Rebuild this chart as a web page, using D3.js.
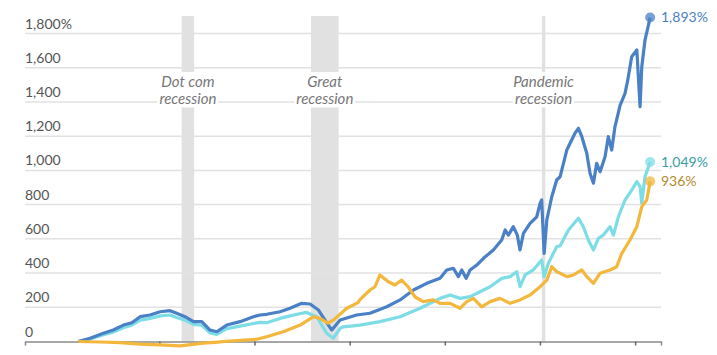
<!DOCTYPE html>
<html>
<head>
<meta charset="utf-8">
<script src="https://cdn.jsdelivr.net/npm/d3@7"></script>
<style>
  html, body { margin: 0; padding: 0; background: #fff; }
  svg { display: block; font-family: Lato, "Open Sans", sans-serif; }
</style>
</head>
<body>
<svg id="chart" width="717" height="355"></svg>
<script>
// ---- data (decimal year, % change) ----
const nasdaq = [
  [1995.74,0],[1996.36,19],[1997.06,48],[1997.58,67],[1998.11,96],[1998.55,110],[1998.99,145],
  [1999.51,155],[2000.04,174],[2000.56,180],[2000.91,165],[2001.35,145],[2001.79,116],[2002.23,116],
  [2002.66,67],[2003.02,57],[2003.54,96],[2004.24,116],[2004.94,145],[2005.29,155],[2005.64,159],
  [2006.34,174],[2006.87,194],[2007.48,223],[2007.92,219],[2008.36,184],[2008.88,96],[2009.06,67],
  [2009.5,126],[2010.37,155],[2011.07,165],[2011.95,203],[2012.65,243],[2013.35,301],[2014.05,340],
  [2014.75,369],[2015.10,418],[2015.45,428],[2015.71,379],[2015.89,418],[2016.12,369],[2016.33,418],
  [2016.68,447],[2017.03,486],[2017.55,535],[2017.99,593],[2018.17,652],[2018.34,622],[2018.60,671],
  [2018.81,622],[2018.95,535],[2019.13,632],[2019.48,690],[2019.83,729],[2020.01,808],[2020.09,827],
  [2020.22,515],[2020.36,710],[2020.62,846],[2020.88,944],[2021.06,963],[2021.41,1119],[2021.84,1217],
  [2022.02,1246],[2022.20,1197],[2022.46,1100],[2022.63,983],[2022.81,925],[2022.98,1041],[2023.16,992],
  [2023.42,1080],[2023.59,1197],[2023.77,1119],[2023.94,1255],[2024.21,1380],[2024.47,1450],
  [2024.60,1520],[2024.82,1664],[2025.09,1704],[2025.26,1372],[2025.35,1606],[2025.52,1762],[2025.79,1893]
];
const sp500 = [
  [1995.74,0],[1996.36,15],[1997.06,40],[1997.58,55],[1998.11,80],[1998.55,95],[1998.99,125],
  [1999.51,135],[2000.04,150],[2000.56,155],[2000.91,140],[2001.35,125],[2001.79,100],[2002.23,95],
  [2002.66,50],[2003.02,42],[2003.54,75],[2004.24,90],[2004.94,105],[2005.29,112],[2005.64,110],
  [2006.34,135],[2006.87,150],[2007.48,165],[2007.74,170],[2008.27,145],[2008.79,48],[2009.14,19],
  [2009.5,77],[2009.67,86],[2010.54,96],[2011.59,116],[2012.65,145],[2013.7,194],
  [2014.75,252],[2015.28,272],[2015.80,252],[2016.33,262],[2016.85,291],[2017.38,320],[2017.99,369],
  [2018.43,379],[2018.78,408],[2018.95,320],[2019.22,389],[2019.65,418],[2020.09,476],[2020.22,379],
  [2020.44,457],[2020.88,554],[2021.06,560],[2021.50,652],[2022.02,720],[2022.28,671],[2022.54,593],
  [2022.81,535],[2023.07,603],[2023.33,622],[2023.68,671],[2023.86,622],[2024.12,729],[2024.47,827],
  [2024.82,885],[2025.09,934],[2025.26,905],[2025.35,808],[2025.52,963],[2025.79,1049]
];
const gold = [
  [1995.74,0],[1996.9,-3],[1997.93,-7],[1998.98,-15],[2000.04,-20],[2001.09,-26],[2002.3,-10],
  [2002.93,-5],[2003.72,3],[2005.11,13],[2005.64,28],[2006.51,57],[2007.4,96],[2008.1,145],
  [2008.44,135],[2008.86,108],[2009.14,125],[2009.85,194],[2010.44,227],[2010.54,245],[2011.07,301],
  [2011.33,320],[2011.59,389],[2011.85,365],[2012.03,349],[2012.38,330],[2012.73,359],[2013.07,320],
  [2013.44,260],[2013.87,233],[2014.4,243],
  [2014.75,223],[2015.28,223],[2015.80,194],[2016.15,233],[2016.50,252],[2016.94,203],[2017.38,233],
  [2017.90,252],[2018.43,223],[2018.95,243],[2019.48,272],[2020.01,320],[2020.36,359],[2020.62,437],
  [2020.88,408],[2021.06,399],[2021.41,379],[2021.76,389],[2022.20,418],[2022.46,379],[2022.81,340],
  [2023.16,399],[2023.68,418],[2024.03,437],[2024.30,515],[2024.73,593],[2025.09,671],[2025.35,788],
  [2025.61,827],[2025.79,936]
];
const yTicks = [0,200,400,600,800,1000,1200,1400,1600,1800];
const yTickLabels = ["0","200","400","600","800","1,000","1,200","1,400","1,600","1,800%"];
const xTicks = [2000,2005,2010,2015,2020,2025];
const recessions = [
  {name:["Dot com","recession"], start:2001.17, end:2001.83},
  {name:["Great","recession"], start:2007.97, end:2009.42},
  {name:["Pandemic","recession"], start:2020.1, end:2020.28}
];
const endLabels = ["1,893%","1,049%","936%"];

// ---- chart ----
const svg = d3.select("#chart");
const x = d3.scaleLinear().domain([1992.94, 2026.36]).range([25, 661]);
const y = d3.scaleLinear().domain([0, 1800]).range([341.5, 33.5]);

// recession bands
svg.append("g").selectAll("rect").data(recessions).join("rect")
  .attr("x", d => x(d.start)).attr("width", d => x(d.end) - x(d.start))
  .attr("y", 16).attr("height", y(0) - 16)
  .attr("fill", "#e1e1e1");

// gridlines
svg.append("g").selectAll("line").data(yTicks.filter(v => v > 0)).join("line")
  .attr("x1", 25).attr("x2", 661)
  .attr("y1", d => y(d)).attr("y2", d => y(d))
  .attr("stroke", "#e2e2e2").attr("stroke-width", 1.5);

// recession labels with white backing
const labG = svg.append("g");
recessions.forEach(r => {
  const cx = x((r.start + r.end) / 2);
  r.name.forEach((t, i) => {
    const txt = labG.append("text")
      .attr("x", cx).attr("y", 87 + i * 17)
      .attr("text-anchor", "middle")
      .attr("font-style", "italic").attr("font-size", 15)
      .attr("fill", "#777").text(t);
    const bb = txt.node().getBBox();
    labG.insert("rect", "text")
      .attr("x", bb.x - 2).attr("y", 72 + i * 17.5)
      .attr("width", bb.width + 4).attr("height", 18)
      .attr("fill", "#fff");
  });
});

// y tick labels
svg.append("g").selectAll("text").data(yTicks).join("text")
  .attr("x", 25).attr("y", d => y(d) - 5)
  .attr("font-size", 14).attr("fill", "#555")
  .text((d, i) => yTickLabels[i]);

// x axis
const xAxis = d3.axisBottom(x).tickValues(xTicks).tickSize(4).tickFormat("");
const ax = svg.append("g").attr("transform", `translate(0,${y(0)})`).call(xAxis);
ax.select(".domain").attr("stroke", "#8a8a8a").attr("stroke-width", 1.5);
ax.selectAll(".tick line").attr("stroke", "#666").attr("stroke-width", 1.5);

// lines
const line = d3.line().x(d => x(d[0])).y(d => y(d[1]));
const series = [
  {data: sp500, color: "#7ddde6"},
  {data: nasdaq, color: "#4a80c5"},
  {data: gold, color: "#f3b73c"}
];
series.forEach(s => {
  svg.append("path").datum(s.data)
    .attr("fill", "none").attr("stroke", s.color)
    .attr("stroke-width", 3.2).attr("stroke-linejoin", "round")
    .attr("d", line);
});

// end dots + labels
const ends = [
  {data: nasdaq, color: "#4a80c5", text: "#4a7fc3", label: endLabels[0]},
  {data: sp500, color: "#7ddde6", text: "#3a9ea5", label: endLabels[1]},
  {data: gold, color: "#f3b73c", text: "#b38a2c", label: endLabels[2]}
];
ends.forEach(e => {
  const last = e.data[e.data.length - 1];
  svg.append("circle").attr("cx", x(last[0])).attr("cy", y(last[1])).attr("r", 5)
    .attr("fill", e.color).attr("fill-opacity", 0.75);
  svg.append("text").attr("x", 661).attr("y", y(last[1]))
    .attr("dy", "0.35em").attr("font-size", 14).attr("fill", e.text)
    .text(e.label);
});
</script>
</body>
</html>
